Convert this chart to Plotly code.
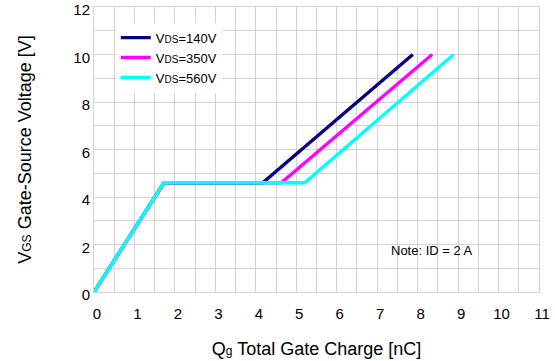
import plotly.graph_objects as go

# Data (nC, V)
series_names = ["140V", "350V", "560V"]
colors = ["#000080", "#ff00ff", "#00ffff"]
qg_140 = [0.0, 1.73, 4.17, 7.88]
vgs_140 = [0.0, 4.6, 4.6, 10.0]
qg_350 = [0.0, 1.73, 4.63, 8.36]
vgs_350 = [0.0, 4.6, 4.6, 10.0]
qg_560 = [0.0, 1.73, 5.21, 8.89]
vgs_560 = [0.0, 4.6, 4.6, 10.0]

xs = [qg_140, qg_350, qg_560]
ys = [vgs_140, vgs_350, vgs_560]

x_ticks = list(range(0, 12))
y_ticks = list(range(0, 13, 2))

FONT = "Liberation Sans, Arial, sans-serif"
sm = '<span style="font-size:12px">'
smleg = '<span style="font-size:10px">'

fig = go.Figure()
for name, c, x, y in zip(series_names, colors, xs, ys):
    fig.add_trace(go.Scatter(
        x=x, y=y, mode="lines",
        line=dict(color=c, width=3.3),
        name=f"V{smleg}DS</span>={name}",
    ))

grid = "#d3d3d3"
fig.update_layout(
    width=555, height=361,
    margin=dict(l=94, r=16, t=7, b=69, autoexpand=False),
    paper_bgcolor="white", plot_bgcolor="white",
    font=dict(family=FONT, color="black"),
    showlegend=True,
    legend=dict(
        x=0.049, y=0.945, xanchor="left", yanchor="top",
        bgcolor="white", font=dict(size=13, family=FONT),
        tracegroupgap=0,
    ),
    annotations=[
        dict(x=8.35, y=1.73, xref="x", yref="y", text="Note: ID = 2 A",
             showarrow=False, font=dict(size=13, family=FONT)),
        dict(x=(211 - 94) / 445, y=1.0225, xref="paper", yref="paper",
             text="Typical Gate Charge",
             showarrow=False, xanchor="left", yanchor="bottom",
             font=dict(size=15, family=FONT)),
    ],
)

fig.update_xaxes(
    range=[0, 11], tickvals=x_ticks, ticktext=[str(v) for v in x_ticks],
    showgrid=True, gridcolor=grid, gridwidth=1,
    minor=dict(dtick=0.5, showgrid=True, gridcolor=grid, gridwidth=1),
    showline=True, linecolor=grid, mirror=True,
    zeroline=False, ticks="", tickfont=dict(size=15),
    ticklabelstandoff=8, ticklabelshift=3, automargin=False,
    ticklabeloverflow="allow",
    title=dict(text=f"Q{sm}g</span> Total Gate Charge [nC]", font=dict(size=18), standoff=21),
)
fig.update_yaxes(
    range=[0, 12], tickvals=y_ticks, ticktext=[str(v) for v in y_ticks],
    showgrid=True, gridcolor=grid, gridwidth=1,
    minor=dict(dtick=1, showgrid=True, gridcolor=grid, gridwidth=1),
    showline=True, linecolor=grid, mirror=True,
    zeroline=False, ticks="", tickfont=dict(size=15), automargin=False,
    ticklabeloverflow="allow", ticklabelshift=3,
    title=dict(text=f"V{sm}GS</span> Gate-Source Voltage [V]", font=dict(size=18), standoff=37),
)

fig.write_html("out.html", config={"displayModeBar": False},
               post_script="document.body.style.margin='0';document.body.style.overflow='hidden';")
